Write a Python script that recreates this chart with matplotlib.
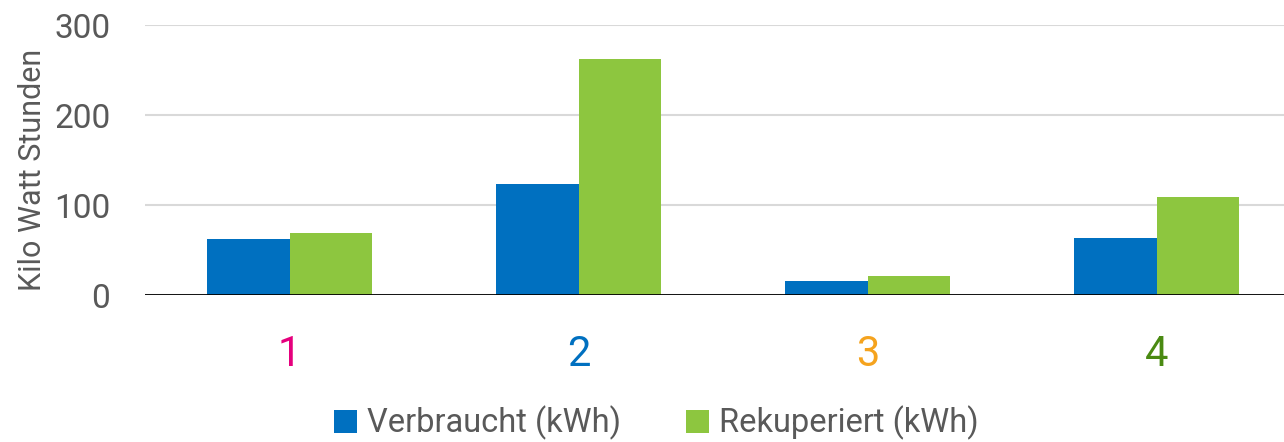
import numpy as np
import matplotlib
matplotlib.use("Agg")
import matplotlib.pyplot as plt
from matplotlib import font_manager

# pick a narrow font if there is one
names = set(f.name for f in font_manager.fontManager.ttflist)
fam = "Liberation Sans Narrow" if "Liberation Sans Narrow" in names else "Roboto"
plt.rcParams['font.family'] = [fam, 'DejaVu Sans']

categories = ["1", "2", "3", "4"]
cat_colors = ["#E5007D", "#0070C0", "#F5A31E", "#4A8A12"]
verbraucht = [62, 123, 15.5, 63]
rekuperiert = [68.5, 262, 21, 108.5]
series_names = ["Verbraucht (kWh)", "Rekuperiert (kWh)"]
blue = "#0070C0"
green = "#8DC63F"
gray = "#595959"

fig = plt.figure(figsize=(12.84, 4.42), dpi=100)
ax = fig.add_axes([145/1284, 147/442, 1 - 145/1284, 270/442])

x = np.arange(len(categories))
w = 0.285
ax.bar(x - w/2, verbraucht, w, color=blue, label=series_names[0], zorder=3)
ax.bar(x + w/2, rekuperiert, w, color=green, label=series_names[1], zorder=3)

ax.set_xlim(-0.5, -0.5 + 1139/289)
ax.set_ylim(0, 300)
ax.set_yticks([0, 100, 200, 300])
ax.yaxis.grid(True, color="#D9D9D9", linewidth=1.5, zorder=0)
ax.axhline(0, color="black", linewidth=2, zorder=4)
for s in ax.spines.values():
    s.set_visible(False)

ax.tick_params(axis="y", length=0, pad=25, labelsize=24, labelcolor=gray)
ax.set_xticks(x)
ax.set_xticklabels(categories, fontsize=30)
ax.tick_params(axis="x", length=0, pad=28)
for lab, c in zip(ax.get_xticklabels(), cat_colors):
    lab.set_color(c)

ax.set_ylabel("Kilo Watt Stunden", fontsize=22, color=gray)
ax.yaxis.set_label_coords(-98/1139, 0.465)

fig.legend(loc="center", bbox_to_anchor=(0.511, 1 - 423/442), ncol=2, frameon=False,
           fontsize=23.5, labelcolor=gray, handlelength=0.7, handleheight=0.7,
           handletextpad=0.3, columnspacing=2.0)

fig.savefig("out.png", dpi=100)
